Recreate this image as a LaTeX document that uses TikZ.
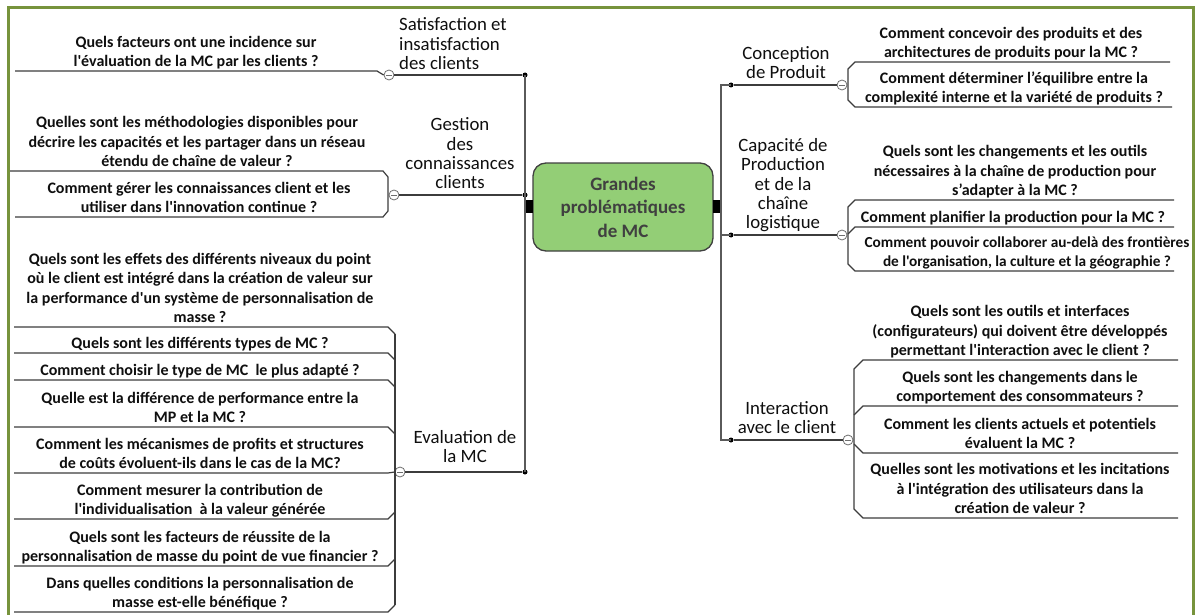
\documentclass[tikz,border=0pt]{standalone}
\usepackage{fontspec}
\setmainfont{Carlito}[Ligatures=TeXOff]
\definecolor{framecol}{RGB}{119,147,60}
\definecolor{ctrfill}{RGB}{147,206,118}
\definecolor{ctrborder}{RGB}{64,64,64}
\definecolor{ctrtext}{RGB}{64,64,64}
\definecolor{linecol}{RGB}{60,60,60}
\definecolor{trunkcol}{RGB}{90,90,90}
\definecolor{knobcol}{RGB}{110,110,110}
\definecolor{txtcol}{RGB}{15,15,15}
\tikzset{
  qn/.style={font=\fontsize{16}{19.5}\selectfont\bfseries, text=txtcol, align=center, anchor=south, inner sep=0pt, text depth=0pt},
  tp/.style={font=\fontsize{18.8}{19.4}\selectfont, text=txtcol, align=center, anchor=south, inner sep=0pt, text depth=0pt},
  ctr/.style={draw=ctrborder, line width=1.3pt, fill=ctrfill, rounded corners=13pt, minimum width=180pt, minimum height=88pt, align=center, font=\fontsize{19}{23.5}\selectfont\bfseries, text=ctrtext, inner sep=0pt},
  blk/.style={fill=black, minimum height=13pt, inner sep=0pt},
  dot/.style={circle, fill=black, minimum size=5pt, inner sep=0pt},
  knob/.style={circle, draw=knobcol, fill=white, minimum size=10pt, inner sep=0pt, line width=0.8pt,
    path picture={\draw[knobcol, line width=0.8pt] ([xshift=-2.6pt]path picture bounding box.center) -- ([xshift=2.6pt]path picture bounding box.center);}},
  ul/.style={draw=linecol, line width=1.2pt},
  conn/.style={draw=linecol, line width=1.2pt},
  trunk/.style={draw=trunkcol, line width=1.2pt}
}
\begin{document}
\begin{tikzpicture}[x=1pt,y=-1pt]
\useasboundingbox (0,0) rectangle (1196,615);
\fill[white] (0,0) rectangle (1196,615);
% frame
\draw[framecol, line width=2.6pt] (8.5,640) -- (8.5,7.5) -- (1193.5,7.5) -- (1193.5,640);

% central node
\node[ctr] (c) at (623,207) {Grandes\\problématiques\\de MC};
\node[blk, minimum width=7pt] (bl) at (529.5,206.5) {};
\node[blk, minimum width=8pt] (br) at (717,206.5) {};

% dots
\node[dot] (dS) at (525,75) {};
\node[dot] (dG) at (525,195) {};
\node[dot] (dE) at (525,472) {};
\node[dot] (dC) at (731,85) {};
\node[dot] (dP) at (731,235) {};
\node[dot] (dI) at (731,440) {};
\coordinate (rC) at (721,85);
\coordinate (rP) at (721,235);
\coordinate (rI) at (721,440);

% trunks
\draw[trunk] (dS.center) -- (dE.center);
\draw[trunk] (dC.center) -- (rC) -- (rI) -- (dI.center);
\draw[trunk] (rP) -- (dP.center);

% knobs
\node[knob] (kS) at (389,75) {};
\node[knob] (kG) at (394,195) {};
\node[knob] (kE) at (400,472) {};
\node[knob] (kC) at (842,85) {};
\node[knob] (kP) at (842,235) {};
\node[knob] (kI) at (848,440) {};

% topic connectors
\draw[conn] (kS) -- (dS);
\draw[conn] (kG) -- (dG);
\draw[conn] (kE) -- (dE);
\draw[conn] (dC) -- (kC);
\draw[conn] (dP) -- (kP);
\draw[conn] (dI) -- (kI);

% topic labels
\node[tp, align=left, anchor=south west] (tS) at (399,70) {Satisfaction et\\insatisfaction\\des clients};
\node[tp] (tG) at (460,189) {Gestion\\des\\connaissances\\clients};
\node[tp] (tE) at (465,463) {Evaluation de\\la MC};
\node[tp] (tC) at (786,79) {Conception\\de Produit};
\node[tp] (tP) at (783,229) {Capacité de\\Production\\et de la\\chaîne\\logistique};
\node[tp] (tI) at (787,434) {Interaction\\avec le client};

% ---- left: Satisfaction
\draw[ul] (15,71) -- (377,71) -- (kS.west);
\node[qn] (s1) at (196,67) {Quels facteurs ont une incidence sur\\l'évaluation de la MC par les clients ?};

% ---- left: Gestion
\draw[ul] (10,171) -- (383,171) -- (388,177) -- (388,211) -- (383,217) -- (15,217);
\node[qn] (g1) at (197,167) {Quelles sont les méthodologies disponibles pour\\décrire les capacités et les partager dans un réseau\\étendu de chaîne de valeur ?};
\node[qn] (g2) at (199,213) {Comment gérer les connaissances client et les\\utiliser dans l'innovation continue ?};

% ---- left: Evaluation
\foreach \y in {327,353,380,427} {\draw[ul] (14,\y) -- (388,\y) -- (395,\y+7);}
\draw[ul] (14,473) -- (388,473) -- (kE.west);
\foreach \y in {519,566,612} {\draw[ul] (14,\y) -- (388,\y) -- (395,\y-7);}
\draw[ul] (395,334) -- (395,605);
\node[qn] (e1) at (200,323) {Quels sont les effets des différents niveaux du point\\où le client est intégré dans la création de valeur sur\\la performance d'un système de personnalisation de\\masse ?};
\node[qn] (e2) at (200,349) {Quels sont les différents types de MC ?};
\node[qn] (e3) at (200,376) {Comment choisir le type de MC\ \ le plus adapté ?};
\node[qn] (e4) at (200,423) {Quelle est la différence de performance entre la\\MP et la MC ?};
\node[qn] (e5) at (200,469) {Comment les mécanismes de profits et structures\\de coûts évoluent-ils dans le cas de la MC?};
\node[qn] (e6) at (200,515) {Comment mesurer la contribution de\\l'individualisation\ \ à la valeur générée};
\node[qn] (e7) at (200,562) {Quels sont les facteurs de réussite de la\\personnalisation de masse du point de vue financier ?};
\node[qn] (e8) at (200,608) {Dans quelles conditions la personnalisation de\\masse est-elle bénéfique ?};

% ---- right: Conception
\draw[ul] (1170,62) -- (855,62) -- (848,69) -- (848,100) -- (855,107) -- (1172,107);
\node[qn] (c1) at (1011,58) {Comment concevoir des produits et des\\architectures de produits pour la MC ?};
\node[qn] (c2) at (1014,103) {Comment déterminer l’équilibre entre la\\complexité interne et la variété de produits ?};

% ---- right: Capacite
\draw[ul] (1174,200) -- (855,200) -- (848,207) -- (848,264) -- (855,271) -- (1174,271);
\draw[ul] (1174,227) -- (855,227) -- (848,234);
\node[qn] (p1) at (1015,196) {Quels sont les changements et les outils\\nécessaires à la chaîne de production pour\\s’adapter à la MC ?};
\node[qn] (p2) at (1013,223) {Comment planifier la production pour la MC ?};
\node[qn, font=\fontsize{15.3}{19.5}\selectfont\bfseries] (p3) at (1027,267) {Comment pouvoir collaborer au-delà des frontières\\de l'organisation, la culture et la géographie ?};

% ---- right: Interaction
\draw[ul] (1178,360) -- (863,360) -- (854,369) -- (854,509) -- (863,518) -- (1178,518);
\draw[ul] (1178,406) -- (863,406) -- (854,415);
\draw[ul] (1178,453) -- (863,453) -- (854,444);
\node[qn] (i1) at (1020,356) {Quels sont les outils et interfaces\\(configurateurs) qui doivent être développés\\permettant l'interaction avec le client ?};
\node[qn] (i2) at (1020,402) {Quels sont les changements dans le\\comportement des consommateurs ?};
\node[qn] (i3) at (1020,449) {Comment les clients actuels et potentiels\\évaluent la MC ?};
\node[qn] (i4) at (1020,514) {Quelles sont les motivations et les incitations\\à l'intégration des utilisateurs dans la\\création de valeur ?};
\end{tikzpicture}
\end{document}
